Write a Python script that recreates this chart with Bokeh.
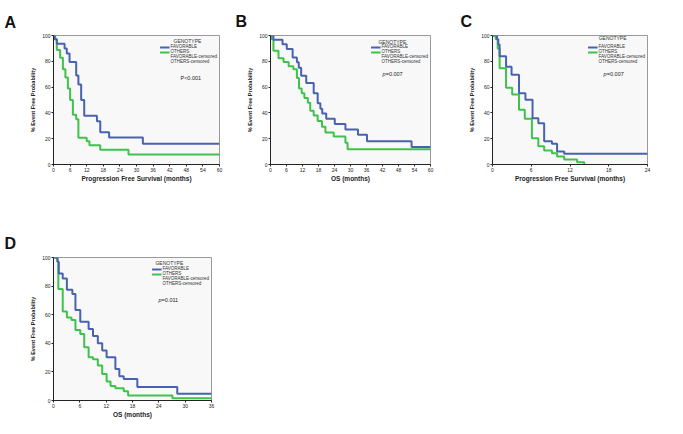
from bokeh.plotting import figure
from bokeh.layouts import column, row
from bokeh.models import Range1d, Label, Legend, LegendItem, FixedTicker
from bokeh.embed import file_html
from bokeh.resources import INLINE

FONT = "Liberation Sans"
BLUE = "#4862b0"
GREEN = "#3ec24c"

genotypes = ["FAVORABLE", "OTHERS", "FAVORABLE-censored", "OTHERS-censored"]
y_ticks = [0, 20, 40, 60, 80, 100]

# ---- Panel A : Progression Free Survival (months) ----
a_xticks = [0, 6, 12, 18, 24, 30, 36, 42, 48, 54, 60]
a_fav_t = [0, 0.4, 1.2, 4.0, 4.8, 5.8, 8.2, 9.0, 10.0, 11.1, 15.7, 16.9, 20.1, 32.3, 60]
a_fav_s = [100, 97, 93.6, 90, 86, 79.5, 69, 62, 50, 37.7, 33.6, 25, 21, 16, 16]
a_oth_t = [0, 0.6, 1.2, 2.4, 3.4, 4.3, 5.2, 6.0, 7.0, 8.2, 9.0, 12.0, 13.0, 16.9, 27.1, 60]
a_oth_s = [100, 97, 88.7, 82.8, 73.8, 67.4, 59, 50, 38.5, 35, 20.8, 18, 14.9, 11.5, 7.7, 7.7]

# ---- Panel B : OS (months) ----
b_xticks = [0, 6, 12, 18, 24, 30, 36, 42, 48, 54, 60]
b_fav_t = [0, 1.1, 4.5, 6.1, 8.3, 9.9, 10.6, 11.5, 13.4, 16.2, 17.7, 18.7, 19.4, 20.9, 24.1, 28.1, 32.8, 36.2, 52.9, 60]
b_fav_s = [100, 96.8, 93.3, 89.6, 82.9, 79.2, 75, 68.8, 63.1, 55.2, 47.5, 43.3, 39.6, 35.4, 31.4, 27.2, 23, 18, 13.6, 13.6]
b_oth_t = [0, 0.4, 1.1, 3.0, 4.9, 6.8, 8.6, 9.9, 10.7, 11.7, 12.7, 14.0, 14.9, 16.2, 17.7, 19.3, 20.6, 23.7, 28.1, 28.9, 60]
b_oth_s = [100, 97, 88.1, 82.4, 79.5, 76.2, 73.8, 67.1, 58.9, 55.2, 51.5, 47.8, 41.6, 37.9, 33.7, 29.2, 24.8, 21.8, 16.8, 11.9, 11.9]

# ---- Panel C : Progression Free Survival (months) ----
c_xticks = [0, 6, 12, 18, 24]
c_fav_t = [0, 0.7, 0.9, 1.1, 2.1, 2.95, 4.1, 5.1, 6.2, 7.1, 8.0, 9.2, 10.0, 11.1, 24]
c_fav_s = [100, 97, 93, 84, 75.7, 69.5, 55.3, 50.1, 35.9, 32, 18.1, 16, 10.1, 8.3, 8.3]
c_oth_t = [0, 0.5, 0.8, 1.1, 2.1, 3.05, 4.1, 5.0, 6.1, 7.1, 8.0, 9.2, 10.0, 11.1, 13.1, 14.2]
c_oth_s = [100, 97, 90, 74.7, 59.4, 54.3, 42.4, 35.4, 20.4, 14.2, 10.9, 8.8, 6.2, 3.9, 1.8, 0]

# ---- Panel D : OS (months) ----
d_xticks = [0, 6, 12, 18, 24, 30, 36]
d_fav_t = [0, 0.9, 1.2, 2.1, 3.05, 4.3, 5.0, 6.1, 8.0, 9.0, 10.1, 11.1, 12.1, 14.1, 15.0, 16.0, 19.1, 28.2, 36]
d_fav_s = [100, 97, 88.8, 85.3, 77.4, 74.4, 63.3, 55.1, 50, 45.1, 40, 34.9, 30.2, 22.1, 17, 15.1, 9.5, 4.7, 4.7]
d_oth_t = [0, 0.9, 1.1, 2.1, 3.05, 4.1, 5.0, 6.1, 7.0, 8.0, 9.0, 10.1, 11.1, 12.1, 13.0, 14.1, 16.0, 17.0, 27.1, 36]
d_oth_s = [100, 97.2, 77.9, 62.3, 58.1, 56.3, 49.3, 46.5, 37.2, 30.2, 28.8, 24.4, 18.6, 13.3, 10.2, 8.6, 6.5, 3.5, 1.6, 1.6]


def panel(letter, xlabel, xticks, fav_t, fav_s, oth_t, oth_s, p_prefix, p_italic, p_rest,
          p_xy, geno_xy, size, borders, letter_off, letter_standoff):
    width, height = size
    bl, br, bt, bb = borders
    p = figure(width=width, height=height, output_backend="svg", toolbar_location=None,
               x_range=Range1d(xticks[0], xticks[-1]), y_range=Range1d(0, 100),
               min_border_left=bl, min_border_right=br, min_border_top=bt, min_border_bottom=bb)
    p.background_fill_color = "#f8f8f8"
    p.border_fill_color = "white"
    p.outline_line_color = "#9a9a9a"
    p.outline_line_width = 1
    p.xgrid.visible = False
    p.ygrid.visible = False

    p.title.text = letter
    p.title.align = "left"
    p.title.offset = letter_off
    p.title.text_font = FONT
    p.title.text_font_size = "16px"
    p.title.text_font_style = "bold"
    p.title.text_color = "#111111"
    p.title.standoff = letter_standoff

    for ax in (p.xaxis[0], p.yaxis[0]):
        ax.axis_line_color = "#222222"
        ax.major_tick_line_color = "#222222"
        ax.major_tick_out = 2
        ax.major_tick_in = 0
        ax.minor_tick_line_color = None
        ax.major_label_text_font = FONT
        ax.major_label_text_font_size = "5px"
        ax.major_label_text_color = "#222222"
        ax.major_label_standoff = 1
        ax.axis_label_text_font = FONT
        ax.axis_label_text_font_style = "bold"
        ax.axis_label_text_color = "#222222"
        ax.axis_label_standoff = 0
    p.xaxis.axis_label = xlabel
    p.xaxis.axis_label_text_font_size = "6.5px"
    p.yaxis.axis_label = "% Event Free Probability"
    p.yaxis.axis_label_text_font_size = "5.5px"
    p.yaxis.axis_label_standoff = 3
    p.xaxis.ticker = FixedTicker(ticks=xticks)
    p.yaxis.ticker = FixedTicker(ticks=y_ticks)

    r_oth = p.step(oth_t, oth_s, mode="after", line_color=GREEN, line_width=2)
    r_fav = p.step(fav_t, fav_s, mode="after", line_color=BLUE, line_width=2)
    fc_l = p.line([], [], line_color=BLUE, line_width=0.8)
    fc_s = p.scatter([], [], marker="cross", size=5, line_color=BLUE, line_width=0.8)
    oc_l = p.line([], [], line_color=GREEN, line_width=0.8)
    oc_s = p.scatter([], [], marker="cross", size=5, line_color=GREEN, line_width=0.8)

    leg = Legend(items=[LegendItem(label=genotypes[0], renderers=[r_fav]),
                        LegendItem(label=genotypes[1], renderers=[r_oth]),
                        LegendItem(label=genotypes[2], renderers=[fc_l, fc_s]),
                        LegendItem(label=genotypes[3], renderers=[oc_l, oc_s])],
                 location="top_right", title=" ", title_text_font_size="5px", title_standoff=1,
                 label_text_font=FONT, label_text_font_size="4.5px",
                 label_text_color="#333333", label_height=4, glyph_height=4, glyph_width=10,
                 spacing=0, padding=1, margin=2, label_standoff=1,
                 border_line_color=None, background_fill_alpha=0)
    p.add_layout(leg)

    p.add_layout(Label(x=geno_xy[0], y=geno_xy[1], text="GENOTYPE", text_align="center",
                       text_baseline="middle", text_font=FONT, text_font_size="5px",
                       text_color="#333333"))
    if p_italic:
        p.add_layout(Label(x=p_xy[0], y=p_xy[1], text=p_prefix, text_align="left",
                           text_baseline="middle", text_font=FONT, text_font_size="5.5px",
                           text_font_style="italic", text_color="#222222"))
        p.add_layout(Label(x=p_xy[0], y=p_xy[1], x_offset=3.2, text=p_rest, text_align="left",
                           text_baseline="middle", text_font=FONT, text_font_size="5.5px",
                           text_color="#222222"))
    else:
        p.add_layout(Label(x=p_xy[0], y=p_xy[1], text=p_prefix + p_rest, text_align="left",
                           text_baseline="middle", text_font=FONT, text_font_size="5.5px",
                           text_color="#222222"))
    return p


pa = panel("A", "Progression Free Survival (months)", a_xticks, a_fav_t, a_fav_s, a_oth_t, a_oth_s,
           "P", False, "<0.001", (45.9, 66.9), (48.4, 96.0),
           (230, 225), (53, 11, 34, 61), -49, 10)
pb = panel("B", "OS (months)", b_xticks, b_fav_t, b_fav_s, b_oth_t, b_oth_s,
           "p", True, "=0.007", (42.0, 70.1), (45.7, 94.8),
           (225, 225), (40, 25, 35, 56), -35, 11)
pc = panel("C", "Progression Free Survival (months)", c_xticks, c_fav_t, c_fav_s, c_oth_t, c_oth_s,
           "p", True, "=0.007", (17.2, 70.5), (18.6, 97.7),
           (226, 225), (37, 34, 35, 61), -32, 11)
pd_ = panel("D", "OS (months)", d_xticks, d_fav_t, d_fav_s, d_oth_t, d_oth_s,
            "p", True, "=0.011", (23.9, 70.6), (26.4, 96.5),
            (230, 205), (53, 19, 32, 30), -49, 12)

page = column(row(pa, pb, pc), pd_)
open("out.html", "w").write(file_html(page, INLINE))
